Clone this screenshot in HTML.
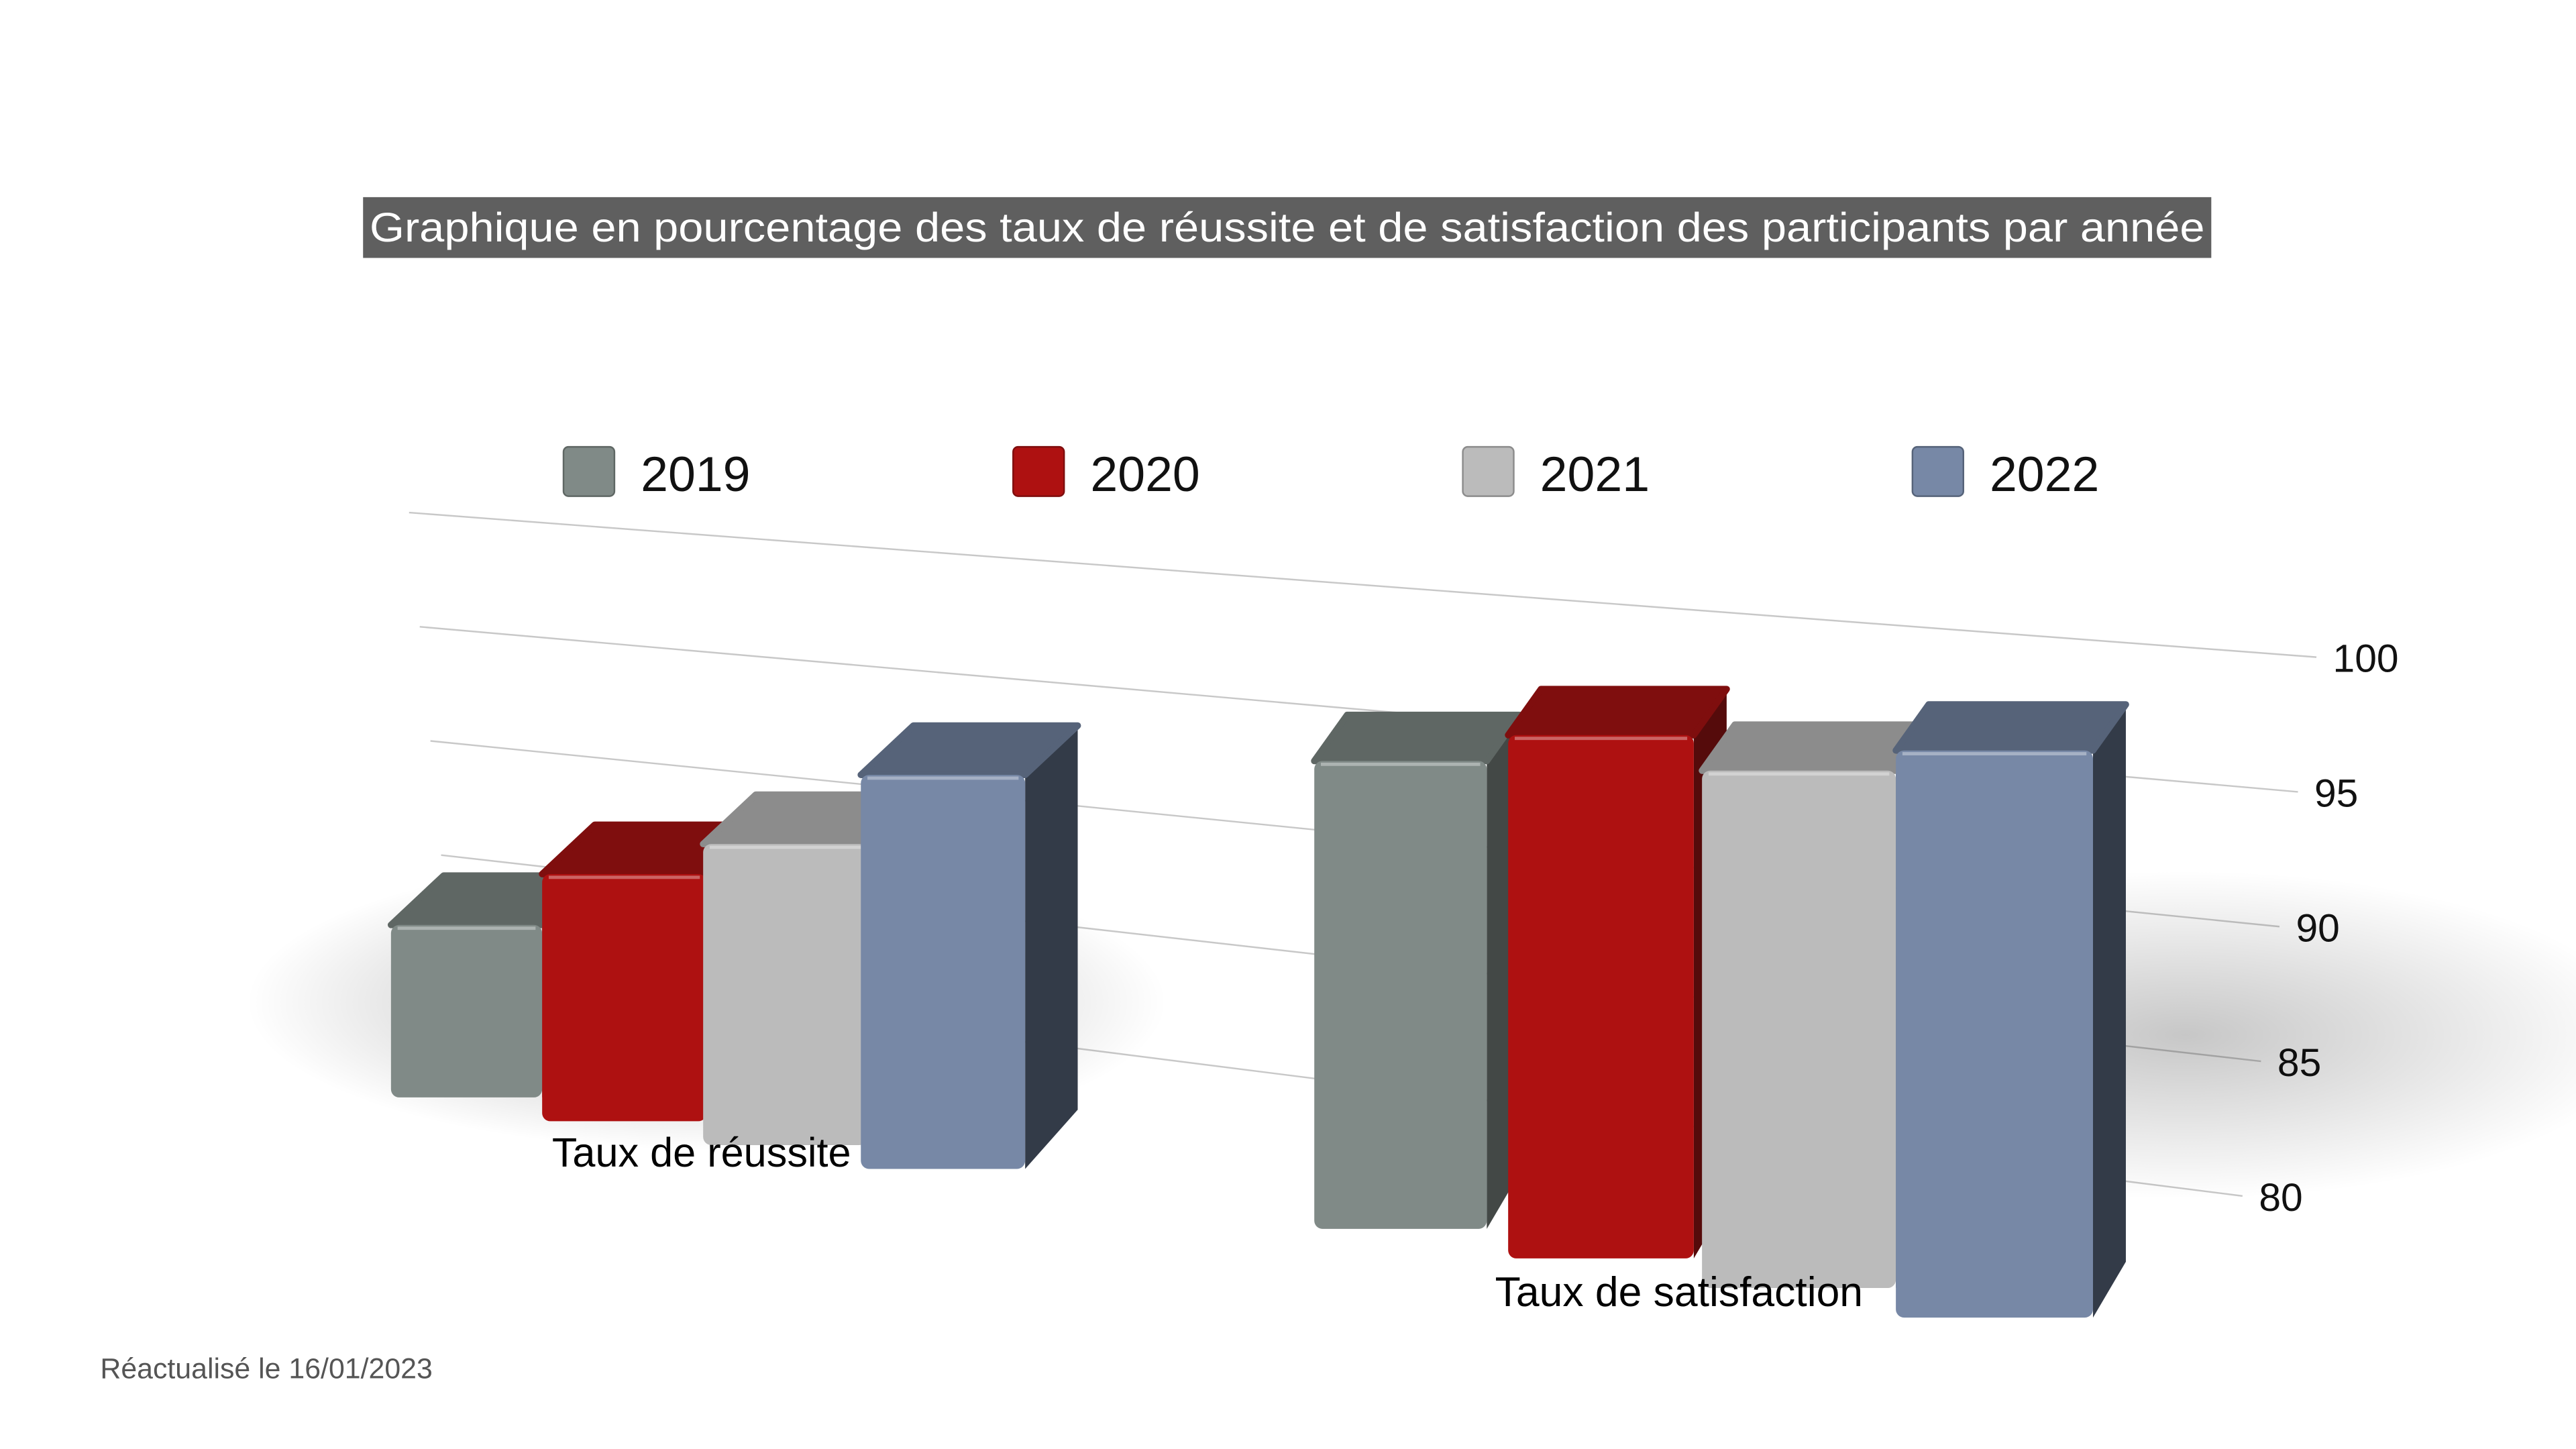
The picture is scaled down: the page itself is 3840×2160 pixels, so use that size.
<!DOCTYPE html>
<html><head><meta charset="utf-8"><style>
html,body{margin:0;padding:0;background:#fff;}
svg{display:block;font-family:"Liberation Sans",sans-serif;}
</style></head><body>
<svg id="chart" width="3840" height="2160" viewBox="0 0 1568 882" xmlns="http://www.w3.org/2000/svg">
<defs>
<radialGradient id="sh" cx="0.5" cy="0.5" r="0.5">
<stop offset="0" stop-color="#000" stop-opacity="0.3"/><stop offset="1" stop-color="#000" stop-opacity="0"/>
</radialGradient>
<radialGradient id="sh2" cx="0.5" cy="0.5" r="0.5">
<stop offset="0" stop-color="#000" stop-opacity="0.22"/><stop offset="1" stop-color="#000" stop-opacity="0"/>
</radialGradient>
</defs>
<rect x="221" y="120" width="1125" height="37" fill="#5f5f5f"/>
<text x="225" y="147" font-size="25" fill="#fff" textLength="1117" lengthAdjust="spacingAndGlyphs">Graphique en pourcentage des taux de réussite et de satisfaction des participants par année</text>
<g id="legend"></g>
<g id="grid"></g>
<g id="shadows">
<ellipse cx="430" cy="610" rx="280" ry="90" fill="url(#sh)"/>
<ellipse cx="1330" cy="630" rx="280" ry="100" fill="url(#sh2)"/>
</g>
<g id="bars"></g>
<text x="427" y="710" font-size="25" text-anchor="middle" fill="#000">Taux de réussite</text>
<text x="1022" y="795" font-size="25.5" text-anchor="middle" fill="#000">Taux de satisfaction</text>
<text x="61" y="839" font-size="17.5" fill="#555">Réactualisé le 16/01/2023</text>
</svg>
<script>
const categories = ["Taux de réussite", "Taux de satisfaction"];
const years = ["2019", "2020", "2021", "2022"];
const reussite = [87.5, 90.5, 92.5, 96];
const satisfaction = [97.8, 99.4, 98.7, 100];
const tickValues = [80, 85, 90, 95, 100];
const tickLabels = ["80", "85", "90", "95", "100"];

const NS = "http://www.w3.org/2000/svg";
function mk(tag, attrs, parent){const e=document.createElementNS(NS,tag);for(const k in attrs)e.setAttribute(k,attrs[k]);parent.appendChild(e);return e;}
const colors = [
 {front:"#808a87",top:"#5f6764",side:"#434846"},
 {front:"#ae1111",top:"#7f0e0e",side:"#550b0b"},
 {front:"#bbbbbb",top:"#8c8c8c",side:"#5a5a5a"},
 {front:"#7788a6",top:"#566379",side:"#333b48"}
];
const legend=document.getElementById('legend');
years.forEach((y,i)=>{
  const x=343+i*273.7;
  const r=mk('rect',{x:x,y:272,width:31,height:30,rx:3,fill:colors[i].front,stroke:colors[i].top,'stroke-width':1},legend);
  
  
  const t=mk('text',{x:x+47,y:299,'font-size':30,fill:'#111'},legend);
  t.textContent=y;
  
  
});
function gridLeft(v){return {x:249+(100-v)*1.3, y:312+(100-v)*13.9};}
function gridRight(v){return {x:1410-(100-v)*2.25, y:400+(100-v)*16.4};}
const grid=document.getElementById('grid');
tickValues.forEach((v,i)=>{
  const a=gridLeft(v),b=gridRight(v);
  const l=mk('line',{x1:a.x,y1:a.y,x2:b.x,y2:b.y,stroke:'#c8c8c8','stroke-width':1},grid);
  
  
  const t=mk('text',{x:b.x+10,y:b.y+9,'font-size':24,fill:'#111'},grid);
  t.textContent=tickLabels[i];
  
  
});
const groups=[
 {vals:reussite,x0:238,step:97,w:[92,100,100,100],yb:668,dyb:14.5,dx:32,dy:30,k0:14,dk:0.33,name:'reussite'},
 {vals:satisfaction,x0:800,step:118,w:[105,113,118,120],yb:748,dyb:18,dx:20,dy:28,k0:16,dk:0.42,name:'satisfaction'}
];
const barsG=document.getElementById('bars');
function barHeight(v,k){return Math.max(0,(v-80)*k);}
groups.forEach(g=>{
  g.vals.forEach((v,i)=>{
    const x=g.x0+i*g.step+(g.name==='reussite'&&i>0?(i===1?-5:i===2?-4:-5):0);
    const w=g.w[i], yb=g.yb+i*g.dyb, k=g.k0+i*g.dk;
    const yt=yb-barHeight(v,k);
    const c=colors[i];
    const bar=mk('g',{},barsG);
    
    
    mk('polygon',{points:`${x+w},${yt} ${x+w+g.dx},${yt-g.dy} ${x+w+g.dx},${yb-g.dy-6} ${x+w},${yb}`,fill:c.side},bar);
    mk('polygon',{points:`${x},${yt} ${x+g.dx},${yt-g.dy} ${x+w+g.dx},${yt-g.dy} ${x+w},${yt}`,fill:c.top,'stroke-linejoin':'round',stroke:c.top,'stroke-width':4},bar);
    mk('rect',{x:x,y:yt,width:w,height:yb-yt,rx:5,fill:c.front},bar);
    mk('line',{x1:x+4,y1:yt+2,x2:x+w-4,y2:yt+2,stroke:'#fff','stroke-opacity':0.35,'stroke-width':2},bar);
  });
});
</script>
</body></html>
